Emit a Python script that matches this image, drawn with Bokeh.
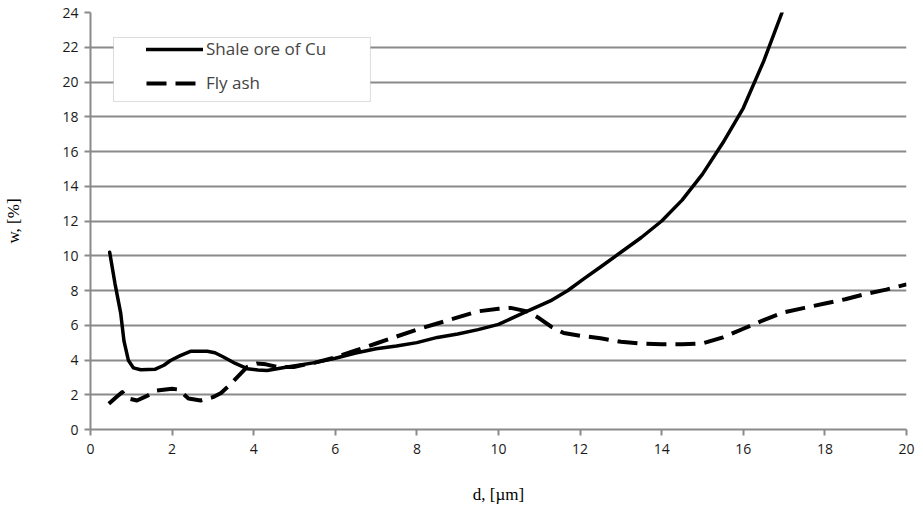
from bokeh.plotting import figure
from bokeh.models import Range1d, Legend, LegendItem, BoxAnnotation, FixedTicker
from bokeh.embed import file_html
from bokeh.resources import INLINE

# ---- data ----
shale_x = [0.47, 0.6, 0.74, 0.82, 0.93, 1.05, 1.23, 1.59, 1.8, 1.96, 2.2, 2.45, 2.86, 3.05, 3.27, 3.55, 3.84, 4.1, 4.33, 4.82,
           5.5, 6.0, 6.5, 7.0, 7.5, 8.0, 8.5, 9.0, 9.5, 10.0, 10.6, 11.27, 11.7, 12.08, 12.5, 13.0, 13.5, 14.0, 14.5,
           15.0, 15.5, 16.0, 16.5, 16.95]
shale_y = [10.2, 8.4, 6.7, 5.1, 3.97, 3.55, 3.44, 3.47, 3.7, 3.97, 4.25, 4.5, 4.5, 4.42, 4.16, 3.8, 3.5, 3.42, 3.4, 3.6,
           3.85, 4.1, 4.4, 4.65, 4.8, 5.0, 5.3, 5.5, 5.75, 6.05, 6.7, 7.4, 8.0, 8.65, 9.35, 10.2, 11.05, 12.0, 13.2,
           14.7, 16.5, 18.5, 21.2, 24.0]

ash_x = [0.45, 0.65, 0.78, 0.9, 1.14, 1.4, 1.63, 2.0, 2.15, 2.4, 2.7, 3.0, 3.2, 3.43, 3.84, 4.08, 4.3, 4.57, 4.98,
         5.5, 6.0, 6.5, 7.0, 7.5, 8.0, 8.5, 9.0, 9.5, 10.0, 10.3, 10.7, 11.0, 11.3, 11.6, 12.0, 12.5, 13.0, 13.5,
         14.0, 14.5, 15.0, 15.5, 16.0, 16.5, 17.0, 17.5, 18.0, 18.5, 19.0, 19.5, 20.0]
ash_y = [1.48, 1.9, 2.15, 1.8, 1.67, 1.95, 2.24, 2.34, 2.3, 1.78, 1.67, 1.86, 2.1, 2.6, 3.6, 3.8, 3.75, 3.6, 3.6,
         3.85, 4.15, 4.55, 4.95, 5.35, 5.75, 6.1, 6.45, 6.8, 6.95, 7.0, 6.8, 6.4, 5.9, 5.55, 5.4, 5.25, 5.05, 4.95,
         4.9, 4.9, 4.95, 5.3, 5.8, 6.3, 6.75, 7.0, 7.25, 7.5, 7.8, 8.05, 8.35]

x_ticks = [0, 2, 4, 6, 8, 10, 12, 14, 16, 18, 20]
y_ticks = [0, 2, 4, 6, 8, 10, 12, 14, 16, 18, 20, 22, 24]
series_names = ["Shale ore of Cu", "Fly ash"]
x_title = "d, [µm]"
y_title = "w, [%]"

GRAY = "#8a8a8a"
FONT = "Open Sans"
SERIF = "Liberation Serif"

p = figure(width=921, height=511, output_backend="svg", toolbar_location=None,
           x_range=Range1d(0, 20), y_range=Range1d(0, 24),
           min_border_left=90, min_border_right=15, min_border_top=12, min_border_bottom=82)
p.outline_line_color = None
p.background_fill_color = "white"

p.xgrid.grid_line_color = None
p.ygrid.grid_line_color = GRAY
p.ygrid.grid_line_width = 2
p.ygrid.ticker = FixedTicker(ticks=y_ticks)

for ax in (p.xaxis[0], p.yaxis[0]):
    ax.axis_line_color = GRAY
    ax.axis_line_width = 2
    ax.major_tick_line_color = GRAY
    ax.major_tick_line_width = 2
    ax.major_tick_out = 6
    ax.major_tick_in = 0
    ax.minor_tick_line_color = None
    ax.major_label_text_font = FONT
    ax.major_label_text_font_size = "14px"
    ax.major_label_text_color = "#1a1a1a"
    ax.axis_label_text_font = SERIF
    ax.axis_label_text_font_style = "normal"
    ax.axis_label_text_font_size = "17px"
    ax.axis_label_text_color = "black"
p.xaxis[0].ticker = FixedTicker(ticks=x_ticks)
p.yaxis[0].ticker = FixedTicker(ticks=y_ticks)
p.xaxis[0].major_label_standoff = 8
p.yaxis[0].major_label_standoff = 6
p.xaxis[0].axis_label = x_title
p.yaxis[0].axis_label = y_title
p.xaxis[0].axis_label_standoff = 28
p.yaxis[0].axis_label_standoff = 36

r1 = p.line(shale_x, shale_y, line_color="black", line_width=3.5, line_join="round", line_cap="round")
r2 = p.line(ash_x, ash_y, line_color="black", line_width=4, line_dash="20 9", line_join="round")

# legend frame
box = BoxAnnotation(left=0.564, right=6.86, top=22.56, bottom=18.88,
                    fill_color="white", fill_alpha=1.0, line_color=GRAY, line_width=1)
p.add_layout(box)

legend = Legend(items=[LegendItem(label=series_names[0], renderers=[r1]),
                       LegendItem(label=series_names[1], renderers=[r2])],
                location=(50, 329), padding=6, spacing=11, glyph_width=57, glyph_height=20,
                label_standoff=3, label_text_font=FONT, label_text_font_size="17px",
                border_line_alpha=0, background_fill_alpha=0)
p.add_layout(legend)

open("out.html", "w").write(file_html(p, INLINE))
